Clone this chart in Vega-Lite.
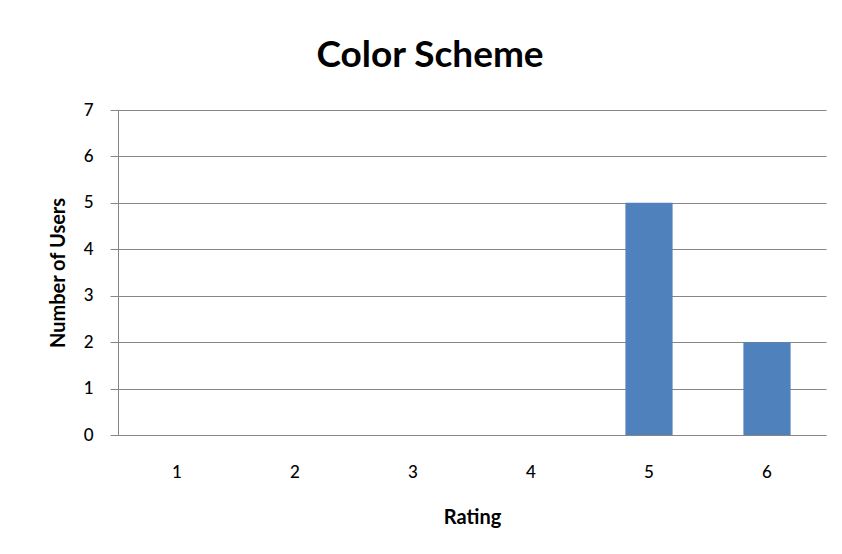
{
  "$schema": "https://vega.github.io/schema/vega-lite/v6.json",
  "autosize": {"type": "none"},
  "width": 708,
  "height": 325,
  "padding": {"left": 118, "top": 110, "right": 16, "bottom": 119},
  "background": "white",
  "title": {
    "text": "Color Scheme",
    "font": "Lato",
    "fontSize": 37,
    "fontWeight": "bold",
    "color": "#000000",
    "anchor": "middle",
    "dx": -42,
    "offset": 26
  },
  "data": {
    "values": [
      {"Rating": "1", "Users": 0},
      {"Rating": "2", "Users": 0},
      {"Rating": "3", "Users": 0},
      {"Rating": "4", "Users": 0},
      {"Rating": "5", "Users": 5},
      {"Rating": "6", "Users": 2}
    ]
  },
  "mark": {"type": "bar", "color": "#4F81BD"},
  "encoding": {
    "x": {
      "field": "Rating",
      "type": "ordinal",
      "scale": {"paddingInner": 0.6, "paddingOuter": 0.3},
      "axis": {
        "title": "Rating",
        "labelAngle": 0,
        "ticks": false,
        "domainColor": "#868686",
        "labelPadding": 29,
        "titlePadding": 27,
        "labelFont": "Lato",
        "labelFontSize": 17,
        "labelFontWeight": 500,
        "labelColor": "#000000",
        "titleFont": "Lato",
        "titleFontSize": 20,
        "titleFontWeight": "bold",
        "titleColor": "#000000"
      }
    },
    "y": {
      "field": "Users",
      "type": "quantitative",
      "scale": {"domain": [0, 7], "nice": false},
      "axis": {
        "title": "Number of Users",
        "values": [0, 1, 2, 3, 4, 5, 6, 7],
        "grid": true,
        "gridColor": "#868686",
        "gridWidth": 1,
        "tickColor": "#868686",
        "tickSize": 8,
        "domainColor": "#868686",
        "labelPadding": 17,
        "titlePadding": 15,
        "labelFont": "Lato",
        "labelFontSize": 17,
        "labelFontWeight": 500,
        "labelColor": "#000000",
        "titleFont": "Lato",
        "titleFontSize": 20,
        "titleFontWeight": "bold",
        "titleColor": "#000000"
      }
    }
  },
  "config": {"view": {"stroke": null}}
}
